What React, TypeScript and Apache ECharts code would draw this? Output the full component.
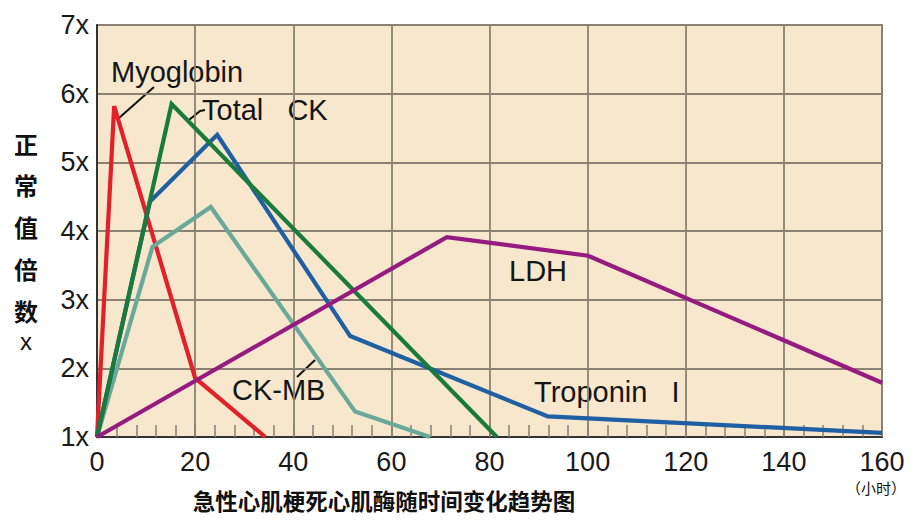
import React, { useEffect, useRef } from "react";
import * as echarts from "echarts";

const xTicks = [0, 20, 40, 60, 80, 100, 120, 140, 160];
const yTicks = [1, 2, 3, 4, 5, 6, 7];

const myoglobin: [number, number][] = [[0, 1], [3.5, 5.82], [20, 1.86], [34.3, 1]];
const totalCK: [number, number][] = [[0, 1], [15.2, 5.85], [81.5, 1]];
const troponinI: [number, number][] = [[0, 1], [10.8, 4.43], [24.5, 5.4], [51.6, 2.47], [91.9, 1.3], [160, 1.06]];
const ckMB: [number, number][] = [[0, 1], [11.3, 3.77], [23.2, 4.35], [52.6, 1.37], [67.9, 1]];
const ldh: [number, number][] = [[0, 1], [71.3, 3.91], [100.1, 3.64], [160, 1.79]];

const seriesNames = ["Myoglobin", "CK-MB", "Troponin I", "Total CK", "LDH"];
const seriesColors = ["#e3202a", "#6aa99a", "#1f5fa3", "#1a7a3c", "#951b81"];

const FONT = "'Liberation Sans', 'Noto Sans CJK SC', Arial, sans-serif";
const CJK = "'Noto Sans CJK SC', 'Liberation Sans', sans-serif";

export default function App() {
  const ref = useRef<HTMLDivElement>(null);
  useEffect(() => {
    if (!ref.current) return;
    const chart = echarts.init(ref.current, null, { renderer: "svg" });
    const datasets = [myoglobin, ckMB, troponinI, totalCK, ldh];
    const yChars = ["正", "常", "值", "倍", "数"];
    const label = (text: string, x: number, y: number, size = 29) => ({
      type: "text",
      x,
      y,
      style: {
        text,
        font: `${size}px ${FONT}`,
        fill: "#151515",
        textAlign: "left",
        textVerticalAlign: "middle",
      },
    });
    chart.setOption({
      animation: false,
      backgroundColor: "#ffffff",
      grid: {
        left: 97,
        top: 25,
        right: 33,
        bottom: 88,
        show: true,
        backgroundColor: "#f7e7cc",
        borderColor: "#8a8174",
        borderWidth: 1.8,
      },
      xAxis: {
        type: "value",
        min: xTicks[0],
        max: xTicks[xTicks.length - 1],
        interval: 20,
        axisLine: { show: true, onZero: false, lineStyle: { color: "#333", width: 2 } },
        axisTick: { show: true, inside: true, length: 12, lineStyle: { color: "#8a8174", width: 1.5 } },
        minorTick: { show: true, splitNumber: 5, length: 12, lineStyle: { color: "#8a8174", width: 1.5 } },
        splitLine: { show: true, lineStyle: { color: "#8a8174", width: 1.8 } },
        axisLabel: {
          fontSize: 27,
          color: "#1a1a1a",
          margin: 11,
          fontFamily: FONT,
        },
      },
      yAxis: {
        type: "value",
        min: yTicks[0],
        max: yTicks[yTicks.length - 1],
        interval: 1,
        axisLine: { show: true, onZero: false, lineStyle: { color: "#333", width: 2 } },
        axisTick: { show: false },
        splitLine: { show: true, lineStyle: { color: "#8a8174", width: 1.8 } },
        axisLabel: {
          fontSize: 27,
          color: "#1a1a1a",
          margin: 8,
          fontFamily: FONT,
          formatter: (v: number) => `${v}x`,
        },
      },
      series: datasets.map((d, i) => ({
        type: "line",
        name: seriesNames[i],
        data: d,
        showSymbol: false,
        symbol: "none",
        lineStyle: { color: seriesColors[i], width: 4.2, join: "miter" },
        z: 2 + i,
      })),
      graphic: [
        ...yChars.map((c, i) => ({
          type: "text",
          x: 26,
          y: 143 + i * 41.8,
          style: {
            text: c,
            font: `bold 24px ${CJK}`,
            fill: "#111",
            textAlign: "center",
            textVerticalAlign: "middle",
          },
        })),
        {
          type: "text",
          x: 26,
          y: 341,
          style: {
            text: "x",
            font: `24px ${FONT}`,
            fill: "#111",
            textAlign: "center",
            textVerticalAlign: "middle",
          },
        },
        {
          type: "text",
          x: 384,
          y: 500,
          style: {
            text: "急性心肌梗死心肌酶随时间变化趋势图",
            font: `bold 22.5px ${CJK}`,
            fill: "#111",
            textAlign: "center",
            textVerticalAlign: "middle",
          },
        },
        {
          type: "text",
          x: 876,
          y: 487,
          style: {
            text: "（小时）",
            font: `15px ${CJK}`,
            fill: "#111",
            textAlign: "center",
            textVerticalAlign: "middle",
          },
        },
        label("Myoglobin", 111, 72),
        {
          type: "line",
          shape: { x1: 154, y1: 87, x2: 119, y2: 118 },
          style: { stroke: "#111", lineWidth: 2 },
        },
        label("Total   CK", 202, 110),
        {
          type: "polyline",
          shape: { points: [[189, 120], [200, 111], [205, 110]] },
          style: { stroke: "#111", lineWidth: 2, fill: "none" },
        },
        label("LDH", 509, 271),
        label("CK-MB", 232, 390),
        {
          type: "line",
          shape: { x1: 315, y1: 360, x2: 297, y2: 377 },
          style: { stroke: "#111", lineWidth: 2 },
        },
        label("Troponin   I", 534, 392),
      ],
    });
    return () => chart.dispose();
  }, []);
  return (
    <div
      ref={ref}
      style={{ position: "fixed", left: 0, top: 0, width: 915, height: 525 }}
    />
  );
}
